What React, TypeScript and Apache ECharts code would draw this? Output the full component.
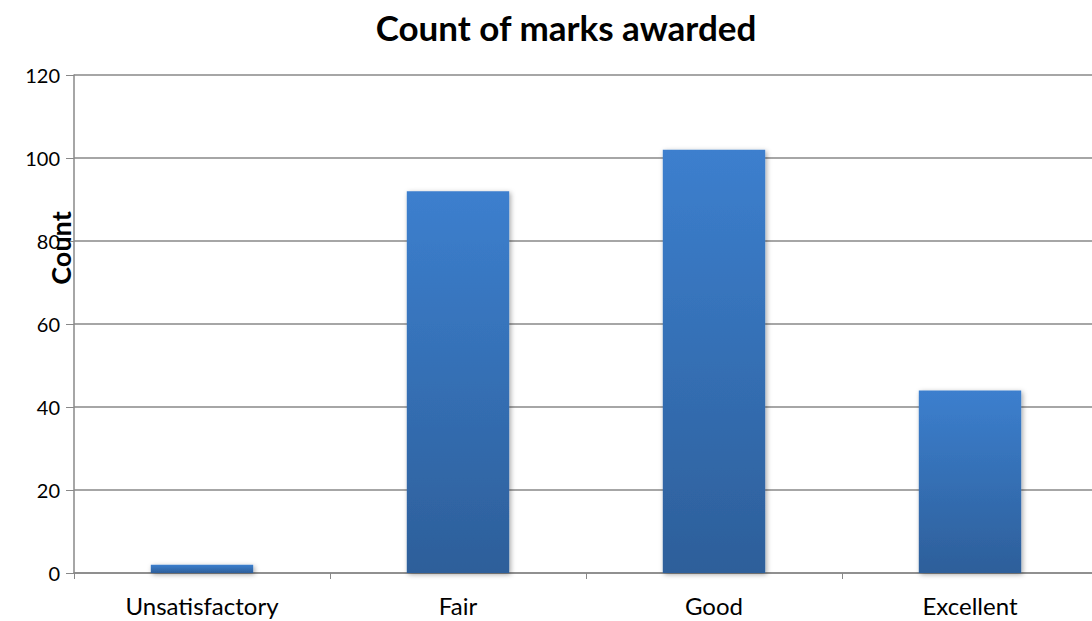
import React, { useEffect, useRef } from "react";
import * as echarts from "echarts";

const categories = ["Unsatisfactory", "Fair", "Good", "Excellent"];
const counts = [2, 92, 102, 44];
const yTicks = { min: 0, max: 120, interval: 20 };

const FONT = "Lato, 'Open Sans', 'Liberation Sans', sans-serif";

export default function App() {
  const ref = useRef<HTMLDivElement>(null);

  useEffect(() => {
    if (!ref.current) return;
    const chart = echarts.init(ref.current, undefined, { renderer: "svg" });
    chart.setOption({
      animation: false,
      backgroundColor: "#ffffff",
      title: {
        text: "Count of marks awarded",
        left: 561,
        textAlign: "center",
        top: 4,
        textStyle: { fontFamily: FONT, fontSize: 35, fontWeight: "bold", color: "#000" },
      },
      // the plot runs slightly past the right edge of the visible area
      grid: { left: 74, right: 2, top: 75, bottom: 48, containLabel: false },
      xAxis: {
        type: "category",
        data: categories,
        axisLine: { lineStyle: { color: "#888", width: 1.5 } },
        axisTick: { show: true, length: 6, lineStyle: { color: "#888" } },
        axisLabel: { fontFamily: FONT, fontSize: 24, color: "#000", margin: 20 },
        splitLine: { show: false },
      },
      yAxis: {
        type: "value",
        min: yTicks.min,
        max: yTicks.max,
        interval: yTicks.interval,
        axisLine: { show: true, lineStyle: { color: "#888", width: 1.5 } },
        axisTick: { show: true, length: 8, lineStyle: { color: "#888" } },
        axisLabel: { fontFamily: FONT, fontSize: 20, color: "#000", margin: 14 },
        splitLine: { show: true, lineStyle: { color: "#888", width: 1.5 } },
      },
      graphic: [
        {
          type: "text",
          x: 60,
          y: 248,
          rotation: Math.PI / 2,
          style: {
            text: "Count",
            fontFamily: FONT,
            fontSize: 27,
            fontWeight: "bold",
            fill: "#000",
            align: "center",
            verticalAlign: "middle",
          },
          z: 100,
        },
      ],
      series: [
        {
          type: "bar",
          data: counts,
          barWidth: "40%",
          itemStyle: {
            color: new echarts.graphic.LinearGradient(0, 0, 0, 1, [
              { offset: 0, color: "#3C7FCE" },
              { offset: 1, color: "#2D5F9A" },
            ]),
            shadowColor: "rgba(0,0,0,0.35)",
            shadowBlur: 5,
            shadowOffsetX: 1.5,
            shadowOffsetY: 1.5,
          },
        },
      ],
    });
    return () => chart.dispose();
  }, []);

  return (
    <div
      style={{
        position: "absolute",
        left: 0,
        top: 0,
        width: 1092,
        height: 621,
        overflow: "hidden",
      }}
    >
      <div ref={ref} style={{ width: 1100, height: 621 }} />
    </div>
  );
}
